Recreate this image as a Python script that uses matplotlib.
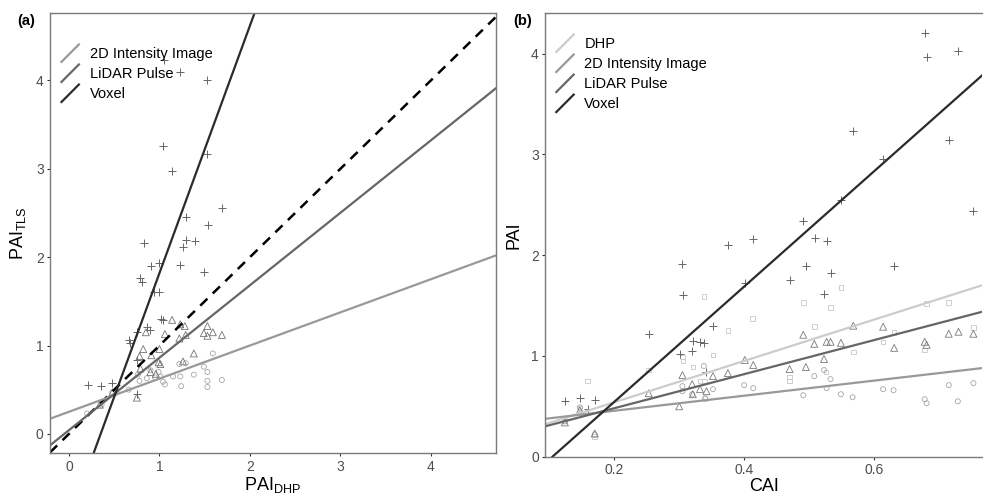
import matplotlib
matplotlib.use('Agg')
import matplotlib.pyplot as plt
from matplotlib.legend_handler import HandlerBase
from matplotlib.lines import Line2D

plt.rcParams['font.family'] = ['Liberation Sans', 'DejaVu Sans']
plt.rcParams['mathtext.default'] = 'regular'

# ---- panel (a): PAI_TLS vs PAI_DHP ----
int_a_x = [1.59, 1.49, 1.53, 1.38, 1.23, 1.15, 1.04, 1.06, 1.24, 1.53, 1.53, 1.69, 0.99,
           1.01, 0.95, 0.86, 0.78, 0.76, 0.90, 1.29, 0.66, 0.48, 0.36, 0.20, 1.22]
int_a_y = [0.91, 0.76, 0.70, 0.67, 0.65, 0.65, 0.59, 0.56, 0.54, 0.60, 0.53, 0.61, 0.70,
           0.65, 0.64, 0.63, 0.60, 0.67, 0.72, 0.80, 0.50, 0.47, 0.33, 0.23, 0.79]
lid_a_x = [1.14, 1.23, 1.28, 1.53, 0.85, 1.06, 1.22, 1.29, 1.49, 1.53, 1.59, 1.69, 0.82, 0.78,
           0.91, 1.00, 1.38, 1.26, 0.99, 1.01, 0.79, 0.90, 0.96, 0.75, 0.34, 0.48]
lid_a_y = [1.29, 1.24, 1.22, 1.22, 1.15, 1.13, 1.08, 1.12, 1.14, 1.11, 1.15, 1.12, 0.96, 0.88,
           0.89, 0.96, 0.91, 0.82, 0.81, 0.79, 0.74, 0.70, 0.68, 0.41, 0.33, 0.47]
vox_a_x = [0.21, 0.35, 0.48, 0.75, 0.75, 0.66, 0.67, 0.75, 0.86, 0.90, 1.02, 1.04, 0.79, 0.81,
           0.91, 0.99, 1.23, 1.49, 0.94, 0.99, 1.05, 1.23, 1.53, 1.04, 1.14, 1.53, 1.69, 1.29,
           1.54, 0.83, 1.29, 1.39, 1.26]
vox_a_y = [0.55, 0.54, 0.58, 0.45, 0.84, 1.06, 1.03, 1.15, 1.21, 1.17, 1.30, 1.29, 1.76, 1.72,
           1.90, 1.93, 1.91, 1.83, 1.61, 1.61, 4.23, 4.09, 4.01, 3.26, 2.98, 3.17, 2.56, 2.46,
           2.36, 2.16, 2.19, 2.18, 2.11]
# fitted lines: (intercept, slope)
fit_a = {'2D Intensity Image': (0.25, 0.375),
         'LiDAR Pulse': (0.042, 0.82),
         'Voxel': (-0.98, 2.8)}

# ---- panel (b): PAI vs CAI ----
dhp_b_x = [0.159, 0.147, 0.147, 0.170, 0.338, 0.375, 0.352, 0.305, 0.306, 0.321, 0.253,
           0.332, 0.339, 0.340, 0.549, 0.491, 0.533, 0.413, 0.508, 0.681, 0.715, 0.753,
           0.631, 0.614, 0.678, 0.568, 0.526, 0.470, 0.470, 0.124]
dhp_b_y = [0.75, 0.48, 0.44, 0.20, 1.59, 1.25, 1.01, 0.99, 0.95, 0.89, 0.86, 0.75, 0.75,
           0.58, 1.68, 1.53, 1.48, 1.37, 1.29, 1.52, 1.53, 1.28, 1.23, 1.14, 1.06, 1.04,
           0.84, 0.79, 0.75, 0.36]
int_b_x = [0.508, 0.523, 0.533, 0.527, 0.400, 0.414, 0.491, 0.549, 0.567, 0.614, 0.630,
           0.715, 0.753, 0.678, 0.681, 0.729, 0.338, 0.352, 0.305, 0.305, 0.320, 0.340,
           0.147, 0.170, 0.124]
int_b_y = [0.80, 0.86, 0.77, 0.68, 0.71, 0.68, 0.61, 0.62, 0.59, 0.67, 0.66, 0.71, 0.73,
           0.57, 0.53, 0.55, 0.90, 0.67, 0.70, 0.65, 0.62, 0.58, 0.49, 0.22, 0.35]
lid_b_x = [0.491, 0.568, 0.614, 0.508, 0.527, 0.533, 0.549, 0.631, 0.678, 0.681, 0.715,
           0.730, 0.753, 0.401, 0.414, 0.523, 0.470, 0.495, 0.352, 0.375, 0.305, 0.320,
           0.342, 0.253, 0.300, 0.321, 0.332, 0.124, 0.147, 0.170]
lid_b_y = [1.21, 1.30, 1.29, 1.12, 1.14, 1.14, 1.13, 1.08, 1.14, 1.11, 1.22, 1.24, 1.22,
           0.96, 0.91, 0.97, 0.87, 0.89, 0.80, 0.83, 0.81, 0.72, 0.65, 0.63, 0.50, 0.62,
           0.67, 0.34, 0.46, 0.23]
vox_b_x = [0.678, 0.681, 0.730, 0.568, 0.715, 0.614, 0.753, 0.549, 0.491, 0.414, 0.375,
           0.509, 0.528, 0.304, 0.495, 0.631, 0.533, 0.470, 0.401, 0.306, 0.523, 0.352,
           0.321, 0.332, 0.338, 0.319, 0.301, 0.341, 0.124, 0.147, 0.170, 0.159, 0.253]
vox_b_y = [4.20, 3.97, 4.03, 3.23, 3.14, 2.95, 2.44, 2.55, 2.34, 2.16, 2.10, 2.17, 2.14,
           1.91, 1.89, 1.89, 1.82, 1.75, 1.72, 1.60, 1.61, 1.30, 1.15, 1.14, 1.13, 1.05,
           1.02, 0.84, 0.55, 0.58, 0.56, 0.47, 1.22]
fit_b = {'DHP': (0.13, 2.05),
         '2D Intensity Image': (0.306, 0.748),
         'LiDAR Pulse': (0.143, 1.69),
         'Voxel': (-0.60, 5.72)}

line_col = {'DHP': '#cccccc', '2D Intensity Image': '#999999',
            'LiDAR Pulse': '#666666', 'Voxel': '#2b2b2b'}


class DiagonalKey(HandlerBase):
    # ggplot-like abline key: a diagonal segment
    def create_artists(self, legend, orig_handle, xdescent, ydescent,
                       width, height, fontsize, trans):
        ln = Line2D([-xdescent, -xdescent + width],
                    [-ydescent, -ydescent + height],
                    color=orig_handle.get_color(), lw=orig_handle.get_linewidth(),
                    solid_capstyle='butt')
        ln.set_transform(trans)
        return [ln]


def estilo(ax):
    for s in ax.spines.values():
        s.set_color('#7a7a7a')
        s.set_linewidth(1.0)
    ax.tick_params(direction='out', length=2.5, width=0.8, color='#333333',
                   labelcolor='#4d4d4d', labelsize=10, pad=2)


def leyenda(ax, hands, y_top):
    ax.legend(handles=hands, handler_map={Line2D: DiagonalKey()}, loc='upper left',
              bbox_to_anchor=(0.024, y_top), frameon=False, fontsize=10.5,
              handlelength=1.3, handleheight=1.63, labelspacing=0.07, handletextpad=0.68,
              borderpad=0, borderaxespad=0)


fig = plt.figure(figsize=(9.83, 4.98), dpi=100)
ax_a = fig.add_axes([50 / 983, 1 - 453.3 / 498, 446 / 983, 440 / 498])
ax_b = fig.add_axes([545 / 983, 1 - 456.7 / 498, 437.5 / 983, 443.4 / 498])

# (a)
ax_a.scatter(int_a_x, int_a_y, marker='o', s=13, facecolors='none', edgecolors='#a6a6a6', linewidths=0.6)
ax_a.scatter(lid_a_x, lid_a_y, marker='^', s=25, facecolors='none', edgecolors='#737373', linewidths=0.6)
ax_a.scatter(vox_a_x, vox_a_y, marker='+', s=33, color='#666666', linewidths=0.7)
ax_a.axline((0, 0), slope=1, color='black', lw=1.8, ls=(0, (4, 3)))
hands = []
for nombre, (b, m) in fit_a.items():
    h = ax_a.axline((0, b), slope=m, color=line_col[nombre], lw=1.6, label=nombre)
    hands.append(h)
ax_a.set_xlim(-0.21, 4.72)
ax_a.set_ylim(-0.22, 4.76)
ax_a.set_xticks([0, 1, 2, 3, 4])
ax_a.set_yticks([0, 1, 2, 3, 4])
ax_a.set_xlabel('PAI$_{DHP}$', fontsize=13, labelpad=1)
ax_a.set_ylabel('PAI$_{TLS}$', fontsize=13, labelpad=6)
estilo(ax_a)
leyenda(ax_a, hands, 0.931)

# (b)
ax_b.scatter(dhp_b_x, dhp_b_y, marker='s', s=11, facecolors='none', edgecolors='#c8c8c8', linewidths=0.6)
ax_b.scatter(int_b_x, int_b_y, marker='o', s=13, facecolors='none', edgecolors='#a6a6a6', linewidths=0.6)
ax_b.scatter(lid_b_x, lid_b_y, marker='^', s=25, facecolors='none', edgecolors='#7a7a7a', linewidths=0.6)
ax_b.scatter(vox_b_x, vox_b_y, marker='+', s=33, color='#666666', linewidths=0.7)
hands = []
for nombre, (b, m) in fit_b.items():
    h = ax_b.axline((0, b), slope=m, color=line_col[nombre], lw=1.6, label=nombre)
    hands.append(h)
ax_b.set_xlim(0.0934, 0.767)
ax_b.set_ylim(0, 4.4)
ax_b.set_xticks([0.2, 0.4, 0.6])
ax_b.set_yticks([0, 1, 2, 3, 4])
ax_b.set_xlabel('CAI', fontsize=13, labelpad=1)
ax_b.set_ylabel('PAI', fontsize=13, labelpad=6)
estilo(ax_b)
ax_b.spines['right'].set_visible(False)
leyenda(ax_b, hands, 0.954)

fig.text(17 / 983, 1 - 21 / 498, '(a)', fontsize=10.5, fontweight='bold', va='center')
fig.text(513 / 983, 1 - 21 / 498, '(b)', fontsize=10.5, fontweight='bold', va='center')

fig.savefig('out.png', dpi=100)
